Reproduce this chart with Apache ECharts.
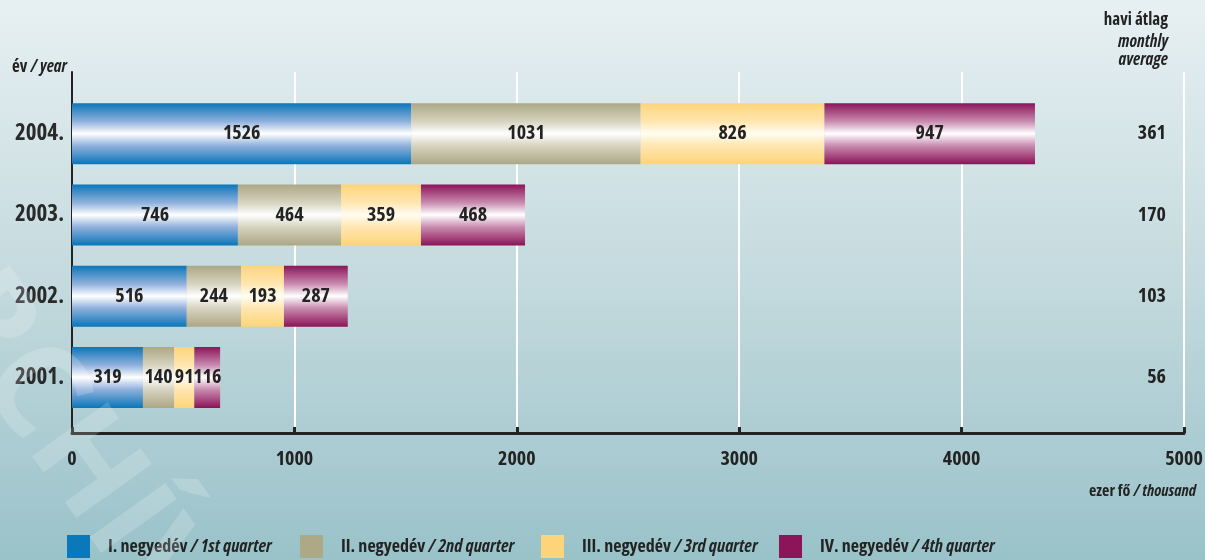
<!DOCTYPE html>
<html>
<head>
<meta charset="utf-8">
<script src="https://cdn.jsdelivr.net/npm/echarts@6/dist/echarts.min.js"></script>
<style>
  html, body { margin: 0; padding: 0; }
  #chart { width: 1205px; height: 560px; }
</style>
</head>
<body>
<div id="chart"></div>
<script>
// évek (alulról felfelé)
var years = ['2001.', '2002.', '2003.', '2004.'];
// negyedéves adatok, ezer fő
var q1 = [319, 516, 746, 1526];
var q2 = [140, 244, 464, 1031];
var q3 = [91, 193, 359, 826];
var q4 = [116, 287, 468, 947];
// havi átlag
var monthlyAvg = [56, 103, 170, 361];
var xTicks = [0, 1000, 2000, 3000, 4000, 5000];
var quarterHu = ['I. negyedév', 'II. negyedév', 'III. negyedév', 'IV. negyedév'];
var quarterEn = ['1st quarter', '2nd quarter', '3rd quarter', '4th quarter'];

// Open Sans változó betűtípus: a "condensed" szélesség működik
var FONT = "'Open Sans', sans-serif";
var BOLD = 'bold condensed';
var INK = '#232323';

// szalag-szerű függőleges színátmenet
function ribbon(edge, mid, centre) {
  return {
    type: 'linear', x: 0, y: 0, x2: 0, y2: 1,
    colorStops: [
      { offset: 0, color: edge },
      { offset: 0.3, color: mid },
      { offset: 0.5, color: centre },
      { offset: 0.7, color: mid },
      { offset: 1, color: edge }
    ]
  };
}
var fills = [
  ribbon('#0a76b8', '#8fb0dc', '#ffffff'),
  ribbon('#aca785', '#d6d3bf', '#ffffff'),
  ribbon('#fdd479', '#ffe6b0', '#fffdf2'),
  ribbon('#8b1458', '#c98bb0', '#ffffff')
];
var solid = ['#0a78bb', '#ada886', '#fdd47a', '#8c1458'];
var legendLeft = [67, 300, 541, 779];
var quarters = [q1, q2, q3, q4];

var series = quarters.map(function (vals, i) {
  return {
    name: quarterHu[i],
    type: 'bar',
    stack: 'total',
    xAxisIndex: 1,
    yAxisIndex: 1,
    barWidth: 61,
    data: vals,
    color: solid[i],
    itemStyle: { color: fills[i] },
    label: {
      show: true,
      position: 'inside',
      fontFamily: FONT,
      fontWeight: BOLD,
      fontSize: 20,
      color: INK
    },
    emphasis: { disabled: true }
  };
});

var legends = quarterHu.map(function (name, i) {
  return {
    data: [{ name: name, itemStyle: { color: solid[i] } }],
    left: legendLeft[i],
    top: 535,
    padding: 0,
    itemWidth: 23,
    itemHeight: 23,
    itemGap: 0,
    selectedMode: false,
    icon: 'rect',
    textStyle: {
      padding: [0, 0, 0, 13],
      rich: {
        b: { fontFamily: FONT, fontWeight: BOLD, fontSize: 18, color: INK },
        i: { fontFamily: FONT, fontStyle: 'italic', fontWeight: BOLD, fontSize: 18, color: INK }
      }
    },
    formatter: function (n) {
      return '{b|' + n + '} {i|/ ' + quarterEn[i] + '}';
    }
  };
});

var chart = echarts.init(document.getElementById('chart'), null, { renderer: 'canvas' });
chart.setOption({
  animation: false,
  backgroundColor: {
    type: 'linear', x: 0, y: 0, x2: 0, y2: 1,
    colorStops: [
      { offset: 0, color: '#e7f0f2' },
      { offset: 0.5, color: '#c4dade' },
      { offset: 1, color: '#99c2c9' }
    ]
  },
  grid: [
    { left: 72, right: 21, top: 72, bottom: 127, outerBoundsMode: 'none' },
    { left: 72, right: 21, top: 93, bottom: 142, outerBoundsMode: 'none' }
  ],
  xAxis: [
    {
      gridIndex: 0, type: 'value', min: 0, max: 5000, interval: 1000,
      axisLine: { show: true, lineStyle: { color: INK, width: 3 } },
      axisTick: { show: true, inside: true, length: 6, lineStyle: { color: INK, width: 3 } },
      splitLine: { show: true, lineStyle: { color: '#ffffff', width: 2 } },
      axisLabel: {
        fontFamily: FONT, fontWeight: BOLD, fontSize: 20, color: INK, margin: 16,
        formatter: function (v) { return xTicks.indexOf(v) >= 0 ? String(v) : ''; }
      }
    },
    { gridIndex: 1, type: 'value', min: 0, max: 5000, show: false }
  ],
  yAxis: [
    {
      gridIndex: 0, type: 'value', min: 0, max: 1,
      axisLine: { show: true, lineStyle: { color: INK, width: 2 } },
      axisTick: { show: false }, axisLabel: { show: false }, splitLine: { show: false }
    },
    {
      gridIndex: 1, type: 'category', data: years,
      axisLine: { show: false }, axisTick: { show: false },
      axisLabel: { fontFamily: FONT, fontWeight: BOLD, fontSize: 23, color: '#2a2a2a', margin: 8 }
    },
    {
      gridIndex: 1, type: 'category', data: years, position: 'right',
      axisLine: { show: false }, axisTick: { show: false },
      axisLabel: {
        inside: true, margin: 18, align: 'right',
        fontFamily: FONT, fontWeight: BOLD, fontSize: 20, color: INK,
        formatter: function (v, idx) { return String(monthlyAvg[idx]); }
      }
    }
  ],
  legend: legends,
  series: series,
  graphic: [
    {
      type: 'text', left: 12, top: 59,
      style: {
        text: '{b|év} {i|/ year}',
        rich: {
          b: { fontFamily: FONT, fontWeight: BOLD, fontSize: 17, fill: INK },
          i: { fontFamily: FONT, fontStyle: 'italic', fontWeight: BOLD, fontSize: 17, fill: INK }
        }
      }
    },
    {
      type: 'text', right: 37, top: 12,
      style: { text: 'havi átlag', font: BOLD + ' 17px ' + FONT, fill: INK, align: 'right' }
    },
    {
      type: 'text', right: 37, top: 34,
      style: { text: 'monthly', font: 'italic ' + BOLD + ' 17px ' + FONT, fill: INK, align: 'right' }
    },
    {
      type: 'text', right: 37, top: 52,
      style: { text: 'average', font: 'italic ' + BOLD + ' 17px ' + FONT, fill: INK, align: 'right' }
    },
    {
      type: 'text', right: 9, top: 483,
      style: {
        text: '{b|ezer fő} {i|/ thousand}',
        rich: {
          b: { fontFamily: FONT, fontWeight: BOLD, fontSize: 16, fill: INK },
          i: { fontFamily: FONT, fontStyle: 'italic', fontWeight: BOLD, fontSize: 16, fill: INK }
        }
      }
    },
    {
      // halvány vízjel
      type: 'text', x: -95, y: 215, rotation: -0.95, z: 100, silent: true,
      style: {
        text: 'ARCHÍV', font: 'bold 130px ' + FONT,
        fill: 'rgba(255,255,255,0.18)', verticalAlign: 'middle'
      }
    }
  ]
});
</script>
</body>
</html>
